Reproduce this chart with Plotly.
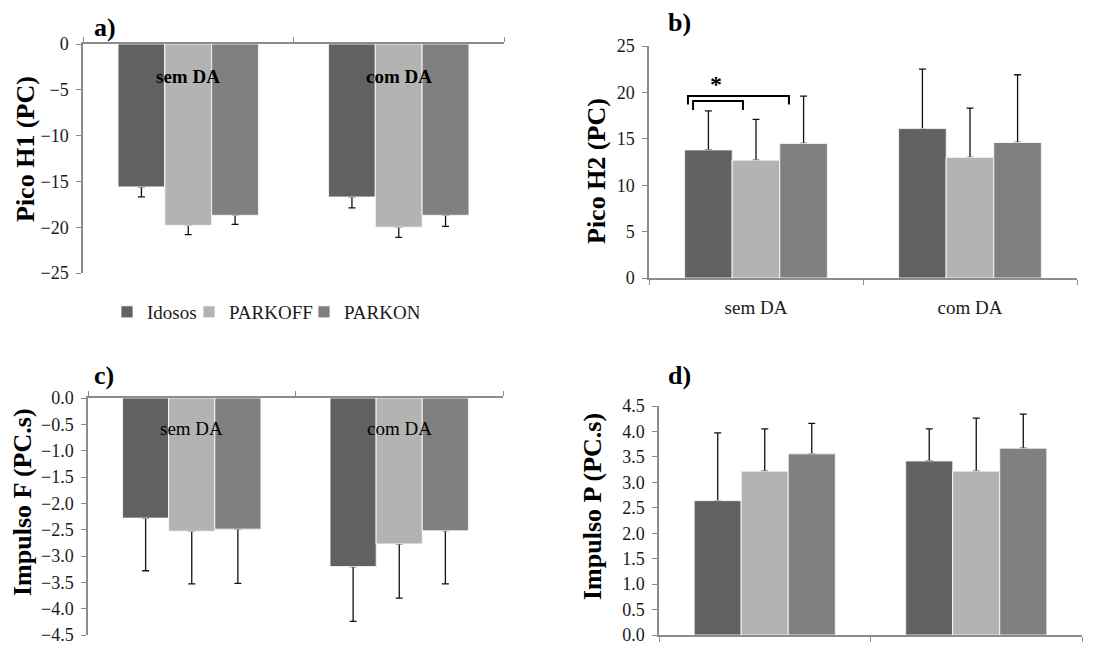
import plotly.graph_objects as go

W, H = 1098, 646

# ---- data -------------------------------------------------------------
conditions = ["sem DA", "com DA"]
groups = ["Idosos", "PARKOFF", "PARKON"]
group_colors = ["#616161", "#b3b3b3", "#808080"]

# a) Pico H1 (PC)
pico_h1 = {"Idosos": [-15.6, -16.7], "PARKOFF": [-19.8, -20.0], "PARKON": [-18.7, -18.7]}
pico_h1_sd = {"Idosos": [1.1, 1.2], "PARKOFF": [1.0, 1.1], "PARKON": [1.0, 1.2]}

# b) Pico H2 (PC)
pico_h2 = {"Idosos": [13.8, 16.1], "PARKOFF": [12.7, 13.0], "PARKON": [14.5, 14.6]}
pico_h2_sd = {"Idosos": [4.2, 6.4], "PARKOFF": [4.4, 5.3], "PARKON": [5.1, 7.3]}

# c) Impulso F (PC.s)
impulso_f = {"Idosos": [-2.28, -3.20], "PARKOFF": [-2.53, -2.77], "PARKON": [-2.49, -2.52]}
impulso_f_sd = {"Idosos": [1.00, 1.04], "PARKOFF": [1.00, 1.03], "PARKON": [1.03, 1.01]}

# d) Impulso P (PC.s)
impulso_p = {"Idosos": [2.64, 3.42], "PARKOFF": [3.22, 3.22], "PARKON": [3.56, 3.67]}
impulso_p_sd = {"Idosos": [1.33, 0.63], "PARKOFF": [0.83, 1.04], "PARKON": [0.60, 0.67]}

# significance brackets in panel b: (x0, x1, y_top, y_leg_end)
brackets_b = [(-0.318, 0.154, 19.6, 18.7), (-0.294, -0.061, 19.06, 18.1)]
star_b = (-0.187, 20.9)

FONT = "Liberation Serif"
AXIS_GRAY = "#8c8c8c"
LEGEND_WIDTHS = {"Idosos": 37, "PARKOFF": 70, "PARKON": 70}


def px_x(p):
    return p / W


def px_y(p):
    return 1 - p / H


fig = go.Figure()

panels = [
    # axis suffix, values, sd, domain x(px), domain y(px), range, dtick, format, bars point down
    ("", pico_h1, pico_h1_sd, (83, 504), (44, 273), [-25, 0], 5, "", True),
    ("2", pico_h2, pico_h2_sd, (649, 1077), (46, 278), [0, 25], 5, "", False),
    ("3", impulso_f, impulso_f_sd, (88, 503), (398, 635), [-4.5, 0], 0.5, ".1f", True),
    ("4", impulso_p, impulso_p_sd, (659, 1082), (406, 635), [0, 4.5], 0.5, ".1f", False),
]

for pi, (k, vals, sds, dx, dy, rng, dt, fmt, down) in enumerate(panels):
    for gi, g in enumerate(groups):
        zeros = [0] * len(conditions)
        bar_style = dict(color=group_colors[gi], line=dict(color="#ffffff", width=0.8))
        # bar carrying the one-sided error bar
        fig.add_trace(
            go.Bar(
                x=conditions,
                y=vals[g],
                name=g,
                marker=bar_style,
                error_y=dict(
                    type="data",
                    symmetric=False,
                    array=zeros if down else sds[g],
                    arrayminus=sds[g] if down else zeros,
                    color="#111111",
                    thickness=1.3,
                    width=3.5,
                ),
                offsetgroup=g,
                xaxis="x" + k,
                yaxis="y" + k,
                showlegend=(pi == 0),
                legendgroup=g,
                legendwidth=LEGEND_WIDTHS[g],
                hoverinfo="skip",
            )
        )
        # same bar drawn again on top so only the outer cap of the error bar shows
        fig.add_trace(
            go.Bar(
                x=conditions,
                y=vals[g],
                name=g,
                marker=bar_style,
                offsetgroup=g,
                xaxis="x" + k,
                yaxis="y" + k,
                showlegend=False,
                legendgroup=g,
            )
        )

    fig.layout["xaxis" + k] = dict(
        domain=[px_x(dx[0]), px_x(dx[1])],
        anchor="y" + k,
        side="top" if down else "bottom",
        type="category",
        tickson="boundaries",
        ticks="outside",
        ticklen=5,
        tickcolor=AXIS_GRAY,
        showline=True,
        linecolor=AXIS_GRAY,
        linewidth=1.5,
        showgrid=False,
        showticklabels=(k == "2"),
        tickfont=dict(family=FONT, size=19, color="#1a1a1a"),
        ticklabelstandoff=11,
        ticklabeloverflow="allow",
        automargin=False,
        fixedrange=True,
    )
    fig.layout["yaxis" + k] = dict(
        domain=[px_y(dy[1]), px_y(dy[0])],
        anchor="x" + k,
        range=rng,
        dtick=dt,
        tick0=0,
        tickformat=fmt,
        ticks="outside",
        ticklen=5,
        tickcolor=AXIS_GRAY,
        showline=True,
        linecolor=AXIS_GRAY,
        linewidth=1.5,
        showgrid=False,
        zeroline=False,
        tickfont=dict(family=FONT, size=18, color="#1a1a1a"),
        ticklabelstandoff=4,
        ticklabeloverflow="allow",
        automargin=False,
        fixedrange=True,
    )

# axis titles and panel letters
titles = [
    ("Pico H1 (PC)", 25, 149),
    ("Pico H2 (PC)", 597, 171),
    ("Impulso F (PC.s)", 22, 502),
    ("Impulso P (PC.s)", 592, 507),
]
for text, cx, cy in titles:
    fig.add_annotation(
        text="<b>%s</b>" % text, x=px_x(cx), y=px_y(cy), xref="paper", yref="paper",
        textangle=-90, showarrow=False, xanchor="center", yanchor="middle",
        font=dict(family=FONT, size=26, color="#000000"),
    )

letters = [("a)", 105, 27), ("b)", 679, 23), ("c)", 104, 375), ("d)", 679, 375)]
for text, cx, cy in letters:
    fig.add_annotation(
        text="<b>%s</b>" % text, x=px_x(cx), y=px_y(cy), xref="paper", yref="paper",
        showarrow=False, xanchor="center", yanchor="middle",
        font=dict(family=FONT, size=26, color="#000000"),
    )

# category labels drawn inside panels a and c, just under the zero line
for c in conditions:
    fig.add_annotation(
        text="<b>%s</b>" % c, x=c, y=-3.5, xref="x", yref="y", showarrow=False,
        font=dict(family=FONT, size=19, color="#000000"),
    )
    fig.add_annotation(
        text=c, x=c, y=-0.57, xref="x3", yref="y3", showarrow=False,
        font=dict(family=FONT, size=19, color="#000000"),
    )

# significance brackets in panel b
for x0, x1, ytop, yleg in brackets_b:
    fig.add_shape(
        type="path", xref="x2", yref="y2",
        path="M %f,%f L %f,%f L %f,%f L %f,%f" % (x0, yleg, x0, ytop, x1, ytop, x1, yleg),
        line=dict(color="#000000", width=2),
    )
fig.add_annotation(
    text="<b>*</b>", x=star_b[0], y=star_b[1], xref="x2", yref="y2", showarrow=False,
    font=dict(family=FONT, size=24, color="#000000"),
)

fig.update_layout(
    width=W,
    height=H,
    autosize=False,
    margin=dict(l=0, r=0, t=0, b=0, autoexpand=False),
    paper_bgcolor="#ffffff",
    plot_bgcolor="#ffffff",
    barmode="group",
    bargap=0.333,
    bargroupgap=0,
    showlegend=True,
    legend=dict(
        orientation="h", x=px_x(107), y=px_y(312), xanchor="left", yanchor="middle",
        font=dict(family=FONT, size=19, color="#1a1a1a"),
        itemwidth=30, tracegroupgap=0, bgcolor="rgba(0,0,0,0)",
    ),
    font=dict(family=FONT),
)

fig.write_html("out.html")
